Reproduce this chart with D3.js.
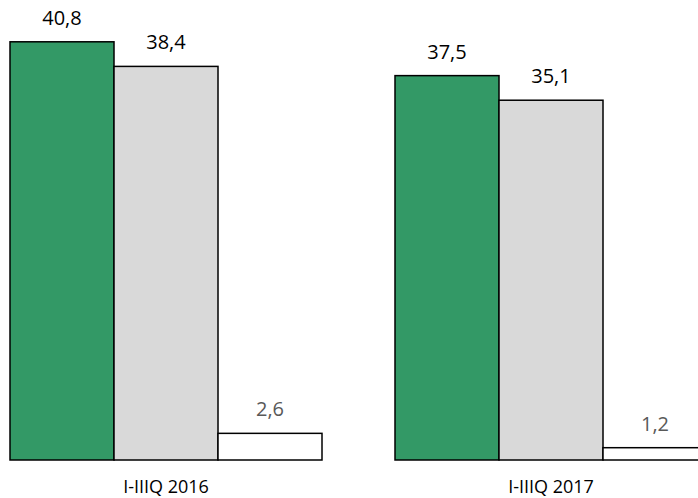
<!DOCTYPE html>
<html>
    <head>
        <script src="https://d3js.org/d3.v7.min.js"></script>
        <style>
            body { margin: 0; background: #fff; }
            text { font-family: "Open Sans", sans-serif; }
        </style>
    </head>
    <body>
        <div id="chart"></div>
        <script>
            // data
            const periods = ["I-IIIQ 2016", "I-IIIQ 2017"]
            const series = ["a", "b", "c"]
            const values2016 = [40.8, 38.4, 2.6]
            const values2017 = [37.5, 35.1, 1.2]
            const fills = ["#339966", "#d9d9d9", "#ffffff"]
            const labelColors = ["#000000", "#000000", "#595959"]

            const width = 698
            const height = 498

            const rows = periods.map((p, i) => ({
                period: p,
                values: [values2016, values2017][i]
            }))

            const x0 = d3.scaleBand(periods, [10, 707])
                .paddingInner(73 / 385)
                .paddingOuter(0)
            const x1 = d3.scaleBand(series, [0, x0.bandwidth()])
            const y = d3.scaleLinear([0, 45], [460, -1.25])

            const fmt = v => d3.format(".1f")(v).replace(".", ",")

            const svg = d3.select("#chart")
                .append("svg")
                .attr("width", width)
                .attr("height", height)

            const g = svg.selectAll("g.grp")
                .data(rows)
                .join("g")
                .attr("class", "grp")
                .attr("transform", d => `translate(${x0(d.period)},0)`)

            g.selectAll("rect")
                .data(d => d.values.map((v, i) => ({key: series[i], v, i})))
                .join("rect")
                .attr("x", d => x1(d.key))
                .attr("y", d => y(d.v))
                .attr("width", x1.bandwidth())
                .attr("height", d => y(0) - y(d.v))
                .attr("fill", d => fills[d.i])
                .attr("stroke", "#000")
                .attr("stroke-width", 1.5)

            g.selectAll("text.val")
                .data(d => d.values.map((v, i) => ({key: series[i], v, i})))
                .join("text")
                .attr("class", "val")
                .attr("x", d => x1(d.key) + x1.bandwidth() / 2)
                .attr("y", d => y(d.v) - 17)
                .attr("text-anchor", "middle")
                .attr("font-size", 20)
                .attr("fill", d => labelColors[d.i])
                .text(d => fmt(d.v))

            // category labels, no axis line in the original
            svg.append("g")
                .selectAll("text")
                .data(periods)
                .join("text")
                .attr("x", d => x0(d) + x0.bandwidth() / 2)
                .attr("y", 493)
                .attr("text-anchor", "middle")
                .attr("font-size", 18)
                .attr("fill", "#000")
                .text(d => d)
        </script>
    </body>
</html>
